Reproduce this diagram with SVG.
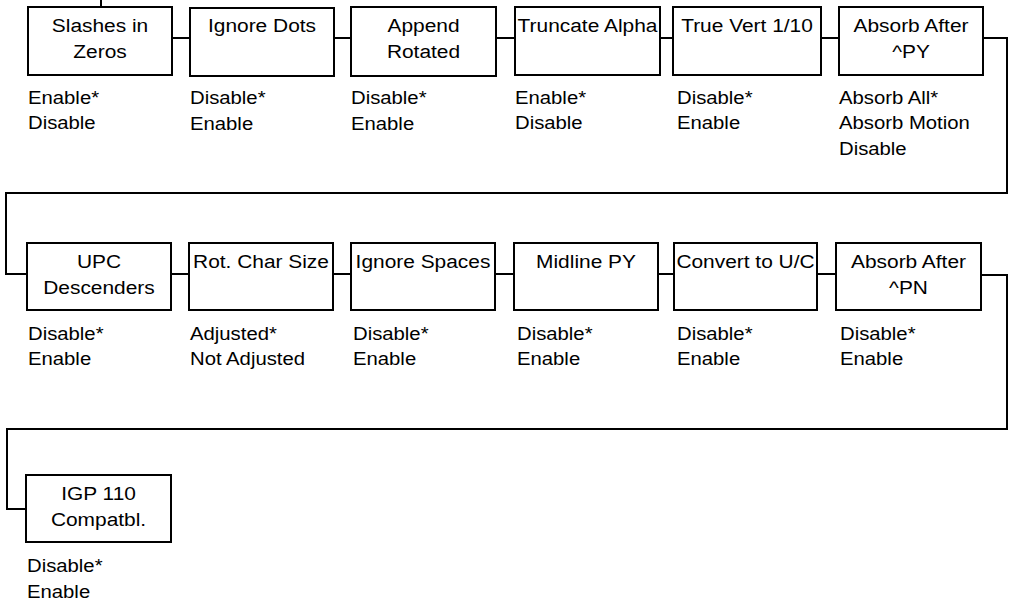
<svg xmlns="http://www.w3.org/2000/svg" width="1010" height="600" viewBox="0 0 1010 600">
<style>
.box{fill:#fff;stroke:#000;stroke-width:2}
.con{fill:none;stroke:#000;stroke-width:2}
.lbl{font-family:"Liberation Sans",Arial,sans-serif;font-size:19px;fill:#000;text-anchor:middle}
.opt{font-family:"Liberation Sans",Arial,sans-serif;font-size:17.5px;fill:#000}
</style>
<rect width="1010" height="600" fill="#fff"/>
<g id="connectors">
<path class="con" d="M101,0V7"/>
<path class="con" d="M172,38H190M334,38H351M496,38H515M660,38H673M821,38H839"/>
<path class="con" d="M983,38H1007V193H6V274H27"/>
<path class="con" d="M171,274H189M333,274H351M495,274H514M658,274H674M817,274H836"/>
<path class="con" d="M981,275H1007V429H7V509H26"/>
</g>
<g id="n1"><rect class="box" x="28" y="7" width="144" height="68"/>
<text class="lbl" transform="translate(100,32) scale(1.1,1)"><tspan x="0">Slashes in</tspan><tspan x="0" dy="26">Zeros</tspan></text>
<text class="opt" transform="translate(28,103.5) scale(1.16,1)"><tspan x="0">Enable*</tspan><tspan x="0" dy="26">Disable</tspan></text></g>
<g id="n2"><rect class="box" x="190" y="8" width="144" height="68"/>
<text class="lbl" transform="translate(262,32) scale(1.1,1)">Ignore Dots</text>
<text class="opt" transform="translate(190,104) scale(1.16,1)"><tspan x="0">Disable*</tspan><tspan x="0" dy="26">Enable</tspan></text></g>
<g id="n3"><rect class="box" x="351" y="7" width="145" height="69"/>
<text class="lbl" transform="translate(423.5,32) scale(1.1,1)"><tspan x="0">Append</tspan><tspan x="0" dy="26">Rotated</tspan></text>
<text class="opt" transform="translate(351,104) scale(1.16,1)"><tspan x="0">Disable*</tspan><tspan x="0" dy="26">Enable</tspan></text></g>
<g id="n4"><rect class="box" x="515" y="7" width="145" height="68"/>
<text class="lbl" transform="translate(587.5,32) scale(1.1,1)">Truncate Alpha</text>
<text class="opt" transform="translate(515,103.5) scale(1.16,1)"><tspan x="0">Enable*</tspan><tspan x="0" dy="26">Disable</tspan></text></g>
<g id="n5"><rect class="box" x="673" y="7" width="148" height="68"/>
<text class="lbl" transform="translate(747,32) scale(1.1,1)">True Vert 1/10</text>
<text class="opt" transform="translate(677,103.5) scale(1.16,1)"><tspan x="0">Disable*</tspan><tspan x="0" dy="26">Enable</tspan></text></g>
<g id="n6"><rect class="box" x="839" y="7" width="144" height="68"/>
<text class="lbl" transform="translate(911,32) scale(1.1,1)"><tspan x="0">Absorb After</tspan><tspan x="0" dy="26">^PY</tspan></text>
<text class="opt" transform="translate(839,103.5) scale(1.16,1)"><tspan x="0">Absorb All*</tspan><tspan x="0" dy="26">Absorb Motion</tspan><tspan x="0" dy="26">Disable</tspan></text></g>
<g id="n7"><rect class="box" x="27" y="243" width="144" height="67"/>
<text class="lbl" transform="translate(99,268) scale(1.1,1)"><tspan x="0">UPC</tspan><tspan x="0" dy="26">Descenders</tspan></text>
<text class="opt" transform="translate(28,339.5) scale(1.16,1)"><tspan x="0">Disable*</tspan><tspan x="0" dy="26">Enable</tspan></text></g>
<g id="n8"><rect class="box" x="189" y="243" width="144" height="67"/>
<text class="lbl" transform="translate(261,268) scale(1.1,1)">Rot. Char Size</text>
<text class="opt" transform="translate(190,339.5) scale(1.16,1)"><tspan x="0">Adjusted*</tspan><tspan x="0" dy="26">Not Adjusted</tspan></text></g>
<g id="n9"><rect class="box" x="351" y="243" width="144" height="67"/>
<text class="lbl" transform="translate(423,268) scale(1.1,1)">Ignore Spaces</text>
<text class="opt" transform="translate(353,339.5) scale(1.16,1)"><tspan x="0">Disable*</tspan><tspan x="0" dy="26">Enable</tspan></text></g>
<g id="n10"><rect class="box" x="514" y="243" width="144" height="67"/>
<text class="lbl" transform="translate(586,268) scale(1.1,1)">Midline PY</text>
<text class="opt" transform="translate(517,339.5) scale(1.16,1)"><tspan x="0">Disable*</tspan><tspan x="0" dy="26">Enable</tspan></text></g>
<g id="n11"><rect class="box" x="674" y="243" width="143" height="67"/>
<text class="lbl" transform="translate(745.5,268) scale(1.1,1)">Convert to U/C</text>
<text class="opt" transform="translate(677,339.5) scale(1.16,1)"><tspan x="0">Disable*</tspan><tspan x="0" dy="26">Enable</tspan></text></g>
<g id="n12"><rect class="box" x="836" y="243" width="145" height="67"/>
<text class="lbl" transform="translate(908.5,268) scale(1.1,1)"><tspan x="0">Absorb After</tspan><tspan x="0" dy="26">^PN</tspan></text>
<text class="opt" transform="translate(840,339.5) scale(1.16,1)"><tspan x="0">Disable*</tspan><tspan x="0" dy="26">Enable</tspan></text></g>
<g id="n13"><rect class="box" x="26" y="475" width="145" height="67"/>
<text class="lbl" transform="translate(98.5,500) scale(1.1,1)"><tspan x="0">IGP 110</tspan><tspan x="0" dy="26">Compatbl.</tspan></text>
<text class="opt" transform="translate(27,572) scale(1.16,1)"><tspan x="0">Disable*</tspan><tspan x="0" dy="26">Enable</tspan></text></g>
</svg>
